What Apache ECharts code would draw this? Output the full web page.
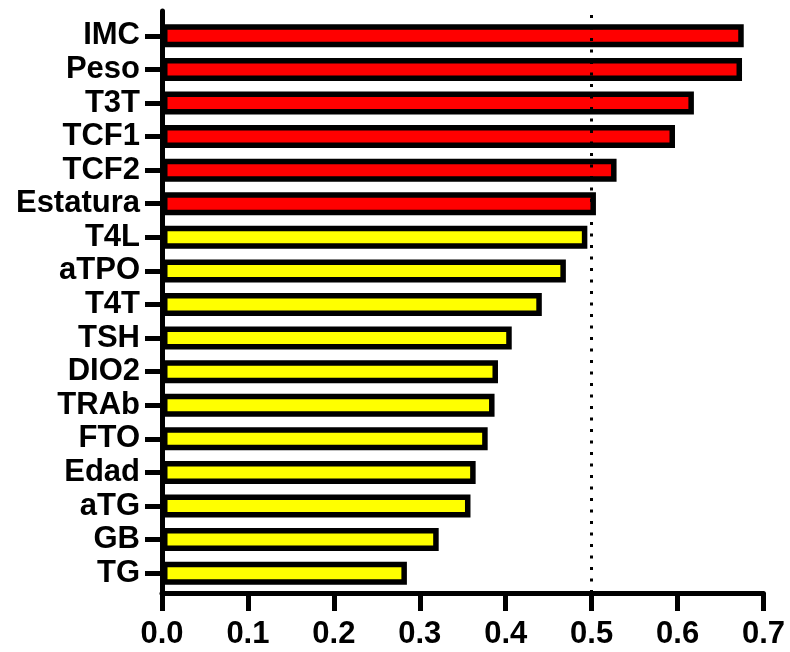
<!DOCTYPE html>
<html>
<head>
<meta charset="utf-8">
<script src="https://cdn.jsdelivr.net/npm/echarts@6/dist/echarts.min.js"></script>
<style>
  html, body { margin: 0; padding: 0; background: #fff; }
  #chart { width: 790px; height: 652px; }
</style>
</head>
<body>
<div id="chart"></div>
<script>
// Variables ordered from top to bottom
const categories = ['IMC', 'Peso', 'T3T', 'TCF1', 'TCF2', 'Estatura', 'T4L', 'aTPO', 'T4T',
  'TSH', 'DIO2', 'TRAb', 'FTO', 'Edad', 'aTG', 'GB', 'TG'];
const importance = [0.677, 0.675, 0.619, 0.597, 0.529, 0.505, 0.495, 0.470, 0.442,
  0.407, 0.391, 0.387, 0.379, 0.365, 0.359, 0.322, 0.285];
// Variables above the cut-off are highlighted
const highlighted = [true, true, true, true, true, true, false, false, false,
  false, false, false, false, false, false, false, false];
const cutoff = 0.5;
const xTicks = { min: 0, max: 0.7, interval: 0.1 };

const FONT = '"Liberation Sans", Arial, sans-serif';
const chart = echarts.init(document.getElementById('chart'));

chart.setOption({
  animation: false,
  backgroundColor: '#ffffff',
  grid: [
    // bars
    { left: 162, right: 26.5, top: 19, bottom: 62 },
    // frame axes
    { left: 162, right: 26.5, top: 11, bottom: 59 }
  ],
  xAxis: [
    { gridIndex: 0, type: 'value', min: xTicks.min, max: xTicks.max, interval: xTicks.interval, show: false },
    {
      gridIndex: 1, type: 'value', min: xTicks.min, max: xTicks.max, interval: xTicks.interval,
      axisLine: { show: true, lineStyle: { color: '#000', width: 5 } },
      axisTick: { show: true, inside: false, length: 18, lineStyle: { color: '#000', width: 5 } },
      splitLine: { show: false },
      axisLabel: {
        color: '#000', fontFamily: FONT, fontWeight: 'bold', fontSize: 31, margin: 26,
        formatter: v => v.toFixed(1)
      }
    }
  ],
  yAxis: [
    {
      gridIndex: 0, type: 'category', data: categories, inverse: true,
      axisLine: { show: false },
      axisTick: { show: true, alignWithLabel: true, interval: 0, length: 17, lineStyle: { color: '#000', width: 5 } },
      axisLabel: { color: '#000', fontFamily: FONT, fontWeight: 'bold', fontSize: 31, margin: 22, interval: 0 },
      splitLine: { show: false }
    },
    {
      gridIndex: 1, type: 'value', min: 0, max: 1,
      axisLine: { show: true, lineStyle: { color: '#000', width: 5 } },
      axisTick: { show: false }, axisLabel: { show: false }, splitLine: { show: false }
    }
  ],
  series: [
    {
      type: 'bar', xAxisIndex: 0, yAxisIndex: 0,
      barWidth: 23,
      data: importance.map((v, i) => ({
        value: v,
        itemStyle: { color: highlighted[i] ? '#ff0000' : '#ffff00' }
      })),
      itemStyle: { borderColor: '#000', borderWidth: 5.5 },
      z: 1
    },
    {
      type: 'line', xAxisIndex: 1, yAxisIndex: 1, data: [],
      markLine: {
        silent: true, symbol: 'none', label: { show: false },
        lineStyle: { color: '#000', width: 3, type: [3, 8.5] },
        data: [{ xAxis: cutoff }]
      }
    }
  ]
});
</script>
</body>
</html>
